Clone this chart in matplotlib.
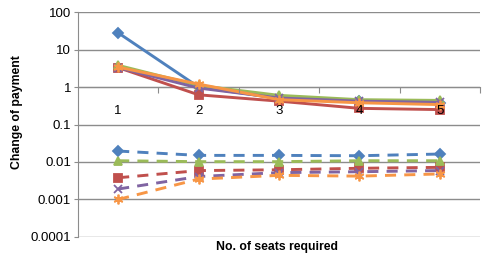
import matplotlib.pyplot as plt
from matplotlib.ticker import FixedLocator, NullFormatter

plt.rcParams['font.family'] = ['Liberation Sans', 'DejaVu Sans']

# données
seats = [1, 2, 3, 4, 5]
cat_labels = ['1', '2', '3', '4', '5']

# courbes pleines
blue_solid = [28, 1.0, 0.5, 0.42, 0.38]
red_solid = [3.3, 0.62, 0.42, 0.27, 0.25]
green_solid = [3.8, 1.1, 0.6, 0.46, 0.44]
purple_solid = [3.3, 0.94, 0.51, 0.42, 0.39]
orange_solid = [3.4, 1.2, 0.46, 0.38, 0.34]

# courbes en pointillés
blue_dash = [0.0196, 0.015, 0.015, 0.0147, 0.0163]
red_dash = [0.0038, 0.0059, 0.0062, 0.0068, 0.0072]
green_dash = [0.0108, 0.0102, 0.0102, 0.0108, 0.0108]
purple_dash = [0.0019, 0.0041, 0.0052, 0.0055, 0.0059]
orange_dash = [0.001, 0.0035, 0.0044, 0.0042, 0.0048]

yticks = [0.0001, 0.001, 0.01, 0.1, 1, 10, 100]
ytick_labels = ['0.0001', '0.001', '0.01', '0.1', '1', '10', '100']

c_blue = '#4F81BD'
c_red = '#C0504D'
c_green = '#9BBB59'
c_purple = '#8064A2'
c_orange = '#F79646'
grid_c = '#8C8C8C'

fig = plt.figure(figsize=(4.84, 2.57), dpi=100)
ax = fig.add_axes([0.161, 0.078, 0.831, 0.875])
ax.set_yscale('log')

star = (6, 2, 0)
series = [
    (blue_solid, blue_dash, c_blue, 'D', 5.3),
    (red_solid, red_dash, c_red, 's', 5.5),
    (green_solid, green_dash, c_green, '^', 6),
    (purple_solid, purple_dash, c_purple, 'x', 5.5),
    (orange_solid, orange_dash, c_orange, star, 7),
]

for solid, dash, col, mk, ms in series:
    ax.plot(seats, solid, color=col, lw=2.1, marker=mk, ms=ms,
            mew=1.3, solid_capstyle='round', zorder=3)
for solid, dash, col, mk, ms in series:
    ax.plot(seats, dash, color=col, lw=2.1, ls=(0, (3.8, 2.8)),
            marker=mk, ms=ms, mew=1.3, zorder=3)

ax.set_xlim(0.5, 5.5)
ax.set_ylim(0.0001, 100)

ax.yaxis.set_major_locator(FixedLocator(yticks))
ax.set_yticklabels(ytick_labels)
ax.yaxis.set_minor_locator(FixedLocator([]))
ax.grid(axis='y', color=grid_c, lw=1.0)
ax.set_axisbelow(True)

# axe des x qui coupe à 1
ax.spines['bottom'].set_position(('data', 1))
ax.spines['bottom'].set_color(grid_c)
ax.spines['left'].set_color(grid_c)
ax.spines['top'].set_visible(False)
ax.spines['right'].set_visible(False)
ax.xaxis.set_major_locator(FixedLocator([1.5, 2.5, 3.5, 4.5, 5.5]))
ax.xaxis.set_major_formatter(NullFormatter())
ax.xaxis.set_minor_locator(FixedLocator(seats))
ax.set_xticklabels(cat_labels, minor=True)
ax.tick_params(axis='x', which='major', length=4, color=grid_c, direction='out')
ax.tick_params(axis='x', which='minor', length=0, pad=13, labelsize=9.5)
ax.tick_params(axis='y', length=3, color=grid_c, labelsize=9.5, pad=2)
ax.xaxis.set_zorder(5)

fig.text(0.035, 0.565, 'Change of payment', fontsize=8.8, fontweight='bold',
         rotation=90, ha='center', va='center')
fig.text(0.572, 0.04, 'No. of seats required', fontsize=8.8,
         fontweight='bold', ha='center', va='center')

fig.savefig('out.png', dpi=100)
